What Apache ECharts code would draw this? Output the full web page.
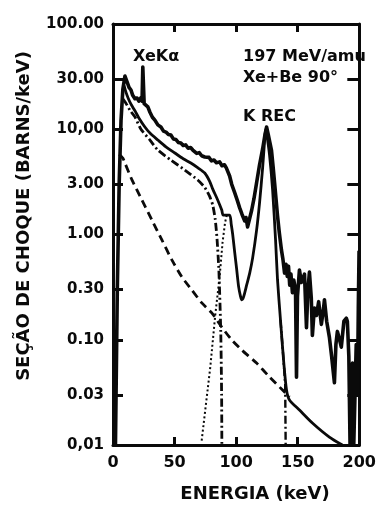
<!DOCTYPE html>
<html>
<head>
<meta charset="utf-8">
<script src="https://cdn.jsdelivr.net/npm/echarts@6/dist/echarts.min.js"></script>
<style>
  html, body { margin: 0; padding: 0; background: #fff; }
  #chart { width: 379px; height: 511px; }
</style>
</head>
<body>
<div id="chart"></div>
<script>
// Photon spectrum, 197 MeV/amu Xe + Be at 90 degrees (energy in keV, cross section in barns/keV)

// measured spectrum
const measured = [
  [2.0, 0.01], [3.5, 0.3], [5.0, 3.0], [6.5, 12], [8.0, 24], [9.7, 32], [11.5, 28], [13.0, 25],
  [14.6, 23.6], [16.0, 21], [17.8, 19.5], [19.5, 19.8], [21.0, 18.5], [22.7, 20.0], [23.6, 18.5],
  [24.2, 39], [24.7, 39], [25.3, 17.5], [26.5, 17.8], [28.3, 16.3], [30.0, 14.5], [32.0, 13.0],
  [34.0, 12.2], [36.4, 11.0], [38.9, 10.5], [41.0, 9.6], [43.0, 9.4], [45.0, 8.9], [47.0, 8.8],
  [49.0, 8.1], [51.0, 8.0], [53.0, 7.5], [55.1, 7.4], [57.0, 7.0], [59.0, 7.1], [61.0, 6.6],
  [63.0, 6.7], [64.8, 6.35], [66.4, 6.4], [68.0, 5.9], [70.0, 6.0], [72.0, 5.6], [74.5, 5.45],
  [76.1, 5.3], [78.0, 5.4], [80.0, 5.0], [82.0, 5.1], [84.0, 4.8], [86.6, 4.9], [88.5, 4.5],
  [90.5, 4.6], [92.0, 4.3], [93.1, 4.38], [94.7, 3.6], [96.4, 3.0], [98.8, 2.5], [101.0, 2.1],
  [102.8, 1.8], [104.8, 1.55], [106.9, 1.35], [108.0, 1.45], [109.3, 1.18], [110.5, 1.35],
  [111.5, 1.3], [112.6, 1.7], [114.5, 2.2], [116.6, 3.1], [119.0, 4.6], [121.5, 6.5], [123.5, 9.0],
  [124.7, 10.5], [126.0, 9.0], [127.5, 7.4], [128.7, 6.3], [130.0, 4.4], [131.2, 3.1], [132.5, 2.1],
  [133.6, 1.5], [135.0, 1.05], [136.8, 0.71], [138.0, 0.58], [139.3, 0.43], [140.5, 0.52],
  [141.5, 0.40], [142.5, 0.50], [143.5, 0.33], [144.5, 0.42], [145.7, 0.28], [146.8, 0.37],
  [148.2, 0.30], [149.0, 0.044], [149.8, 0.26], [151.4, 0.46], [153.0, 0.35], [155.5, 0.42],
  [157.1, 0.13], [158.3, 0.30], [159.5, 0.44], [161.0, 0.25], [161.9, 0.11], [163.5, 0.20],
  [165.2, 0.17], [167.0, 0.23], [169.2, 0.14], [171.0, 0.20], [171.7, 0.24], [173.5, 0.15],
  [175.7, 0.106], [177.5, 0.07], [179.8, 0.039], [181.0, 0.09], [182.2, 0.12], [184.0, 0.10],
  [185.4, 0.085], [187.5, 0.15], [189.5, 0.16], [190.3, 0.15], [191.5, 0.07], [192.5, 0.01],
  [193.5, 0.01], [194.5, 0.06], [195.5, 0.01], [196.5, 0.01], [197.5, 0.09], [198.5, 0.03],
  [199.2, 0.2], [199.8, 0.7]
];

// total fitted spectrum
const totalFit = [
  [9.0, 26], [10.5, 22.5], [12.5, 19.5], [14.6, 17.3], [17.8, 15.0], [21.0, 12.8], [25.9, 10.5],
  [30.0, 9.2], [36.4, 7.9], [43.0, 6.8], [50.2, 5.95], [57.0, 5.25], [63.2, 4.78], [69.0, 4.3],
  [74.5, 3.84], [78.5, 3.2], [81.0, 2.7], [85.0, 2.13], [88.3, 1.71], [89.5, 1.53], [94.7, 1.53],
  [96.0, 1.25], [97.2, 1.0], [98.8, 0.68], [100.4, 0.47], [102.0, 0.32], [103.5, 0.26],
  [104.5, 0.24], [105.5, 0.245], [107.0, 0.28], [108.5, 0.33], [111.0, 0.43], [113.4, 0.6],
  [116.6, 1.1], [119.0, 2.0], [121.5, 4.3], [123.0, 7.5], [123.9, 10.0], [124.8, 9.0],
  [127.1, 5.7], [129.6, 2.65], [132.0, 0.89], [133.6, 0.37], [136.0, 0.154], [138.5, 0.064],
  [140.9, 0.0333], [143.3, 0.0268], [151.4, 0.0215], [161.9, 0.0162], [175.7, 0.0119], [186.2, 0.01]
];

// continuum component (dash-dot)
const continuum = [
  [8.0, 19.5], [10.5, 17.7], [14.0, 15.0], [17.8, 13.1], [22.7, 10.0], [30.0, 7.9], [36.4, 6.35],
  [47.0, 5.1], [58.3, 4.1], [68.8, 3.29], [74.5, 2.8], [78.5, 2.3], [81.0, 1.9], [83.0, 1.4],
  [84.5, 0.9], [86.0, 0.45], [87.5, 0.12], [88.2, 0.03], [88.4, 0.01]
];

// K REC component cut-off (dash-dot)
const recCutoff = [
  [136.0, 0.154], [138.5, 0.064], [139.8, 0.038], [140.2, 0.01]
];

// second continuum component (dashed)
const bremsTail = [
  [5.0, 5.8], [8.1, 5.3], [9.7, 4.78], [15.4, 3.3], [23.5, 2.13], [31.6, 1.37], [39.7, 0.887],
  [47.8, 0.573], [55.9, 0.395], [64.0, 0.297], [72.1, 0.224], [80.2, 0.18], [88.3, 0.132],
  [96.4, 0.0995], [104.5, 0.08], [116.6, 0.06], [127.1, 0.0443], [137.7, 0.0333], [143.3, 0.0286]
];

// rising edge component (dotted)
const risingEdge = [
  [72.0, 0.011], [79.0, 0.055], [83.0, 0.17], [86.6, 0.4], [89.0, 0.85], [91.0, 1.3], [92.5, 1.55]
];

// axis ticks
const xTicks = [0, 50, 100, 150, 200];
const yTickValues = [0.01, 0.03, 0.1, 0.3, 1, 3, 10, 30, 100];
const yTickLabels = ['0,01', '0.03', '0.10', '0.30', '1.00', '3.00', '10,00', '30.00', '100.00'];

const FONT = '"DejaVu Sans", "Liberation Sans", sans-serif';
const INK = '#0a0a0a';

function yLabel(v) {
  const i = yTickValues.findIndex(t => Math.abs(Math.log10(t) - Math.log10(v)) < 0.01);
  return i >= 0 ? yTickLabels[i] : '';
}

const chart = echarts.init(document.getElementById('chart'), null, { renderer: 'canvas' });

const axisLine = { show: true, onZero: false, lineStyle: { color: INK, width: 3 } };

const option = {
  backgroundColor: '#fff',
  animation: false,
  grid: { left: 113, right: 17, top: 24, bottom: 66, containLabel: false },
  xAxis: [
    {
      type: 'value', position: 'bottom', min: xTicks[0], max: xTicks[xTicks.length - 1], interval: 50,
      axisLine: axisLine,
      axisTick: { show: true, inside: true, length: 8, lineStyle: { color: INK, width: 3 } },
      axisLabel: {
        show: true, margin: 10, color: INK, fontFamily: FONT, fontWeight: 'bold', fontSize: 16,
        formatter: v => String(v)
      },
      splitLine: { show: false }
    },
    {
      type: 'value', position: 'top', min: xTicks[0], max: xTicks[xTicks.length - 1], interval: 50,
      axisLine: axisLine,
      axisTick: { show: true, inside: true, length: 8, lineStyle: { color: INK, width: 3 } },
      axisLabel: { show: false },
      splitLine: { show: false }
    }
  ],
  yAxis: [
    {
      type: 'log', logBase: 10, position: 'left', min: 0.01, max: 100,
      axisLine: axisLine,
      axisTick: { show: true, inside: true, length: 10, customValues: yTickValues, lineStyle: { color: INK, width: 3 } },
      axisLabel: {
        show: true, margin: 9, customValues: yTickValues, color: INK, fontFamily: FONT,
        fontWeight: 'bold', fontSize: 15, formatter: yLabel
      },
      splitLine: { show: false },
      minorTick: { show: false }
    },
    {
      type: 'log', logBase: 10, position: 'right', min: 0.01, max: 100,
      axisLine: axisLine,
      axisTick: { show: true, inside: true, length: 12, customValues: yTickValues, lineStyle: { color: INK, width: 3 } },
      axisLabel: { show: false },
      splitLine: { show: false }
    }
  ],
  series: [
    {
      name: 'dashed', type: 'line', data: bremsTail, showSymbol: false, smooth: 0.2, clip: true,
      lineStyle: { color: INK, width: 2.8, type: [8, 5] }
    },
    {
      name: 'dotted', type: 'line', data: risingEdge, showSymbol: false, clip: true,
      lineStyle: { color: INK, width: 2, type: [2, 2.5] }
    },
    {
      name: 'continuum', type: 'line', data: continuum, showSymbol: false, smooth: 0.2, clip: true,
      lineStyle: { color: INK, width: 2.8, type: [8, 3, 2, 3] }
    },
    {
      name: 'rec', type: 'line', data: recCutoff, showSymbol: false, clip: true,
      lineStyle: { color: INK, width: 2.4, type: [8, 3, 2, 3] }
    },
    {
      name: 'fit', type: 'line', data: totalFit, showSymbol: false, smooth: 0.25, clip: true,
      lineStyle: { color: INK, width: 2.8 }
    },
    {
      name: 'measured', type: 'line', data: measured, showSymbol: false, clip: true,
      lineStyle: { color: INK, width: 3.6, join: 'round' }
    }
  ],
  graphic: [
    {
      type: 'text', x: 24, y: 216, rotation: Math.PI / 2,
      style: {
        text: 'SEÇÃO DE CHOQUE (BARNS/keV)', fill: INK, textAlign: 'center', textVerticalAlign: 'middle',
        font: 'bold 18px ' + FONT
      }
    },
    {
      type: 'text', x: 255, y: 494,
      style: {
        text: 'ENERGIA (keV)', fill: INK, textAlign: 'center', textVerticalAlign: 'middle',
        font: 'bold 18px ' + FONT
      }
    },
    {
      type: 'text', x: 133, y: 57,
      style: { text: 'XeKα', fill: INK, textAlign: 'left', textVerticalAlign: 'middle', font: 'bold 16px ' + FONT }
    },
    {
      type: 'text', x: 243, y: 57,
      style: { text: '197 MeV/amu', fill: INK, textAlign: 'left', textVerticalAlign: 'middle', font: 'bold 16px ' + FONT }
    },
    {
      type: 'text', x: 243, y: 78,
      style: { text: 'Xe+Be 90°', fill: INK, textAlign: 'left', textVerticalAlign: 'middle', font: 'bold 16px ' + FONT }
    },
    {
      type: 'text', x: 243, y: 117,
      style: { text: 'K REC', fill: INK, textAlign: 'left', textVerticalAlign: 'middle', font: 'bold 16px ' + FONT }
    }
  ]
};

chart.setOption(option);
</script>
</body>
</html>
